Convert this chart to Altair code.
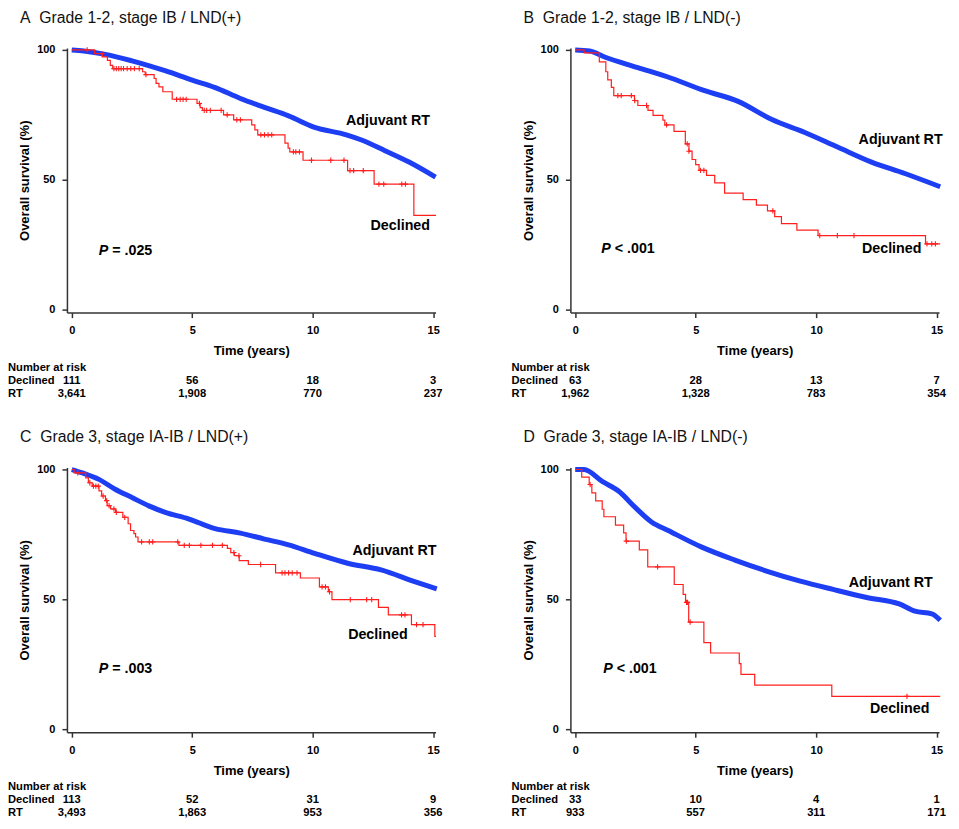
import altair as alt
import pandas as pd

FONT = "Liberation Sans"
BLUE = "#1d3ef2"
RED = "#ff1f1f"

W, H = 369, 265
X_DOMAIN = [-0.2, 15.1]
Y_DOMAIN = [-1.2, 100.8]
X_TICKS = [0, 5, 10, 15]
Y_TICKS = [0, 50, 100]
RISK_TIMES = [0, 5, 10, 15]

# ---------------- Panel A ----------------
A_TITLE = "A\u00a0\u00a0Grade 1-2, stage IB / LND(+)"
A_RT_T = [0, 0.5, 1.4, 2.5, 3.87, 5.0, 5.93, 7.0, 8.0, 9.0, 10.05, 11.4, 12.0, 13.0, 14.0, 15.1]
A_RT_S = [100, 99.6, 98.3, 95.8, 92.0, 88.4, 85.6, 81.3, 77.9, 74.6, 70.3, 67.3, 65.4, 61.2, 56.8, 51.0]
A_DEC_T = [0, 0.95, 1.27, 1.48, 1.6, 1.7, 2.94, 3.05, 3.42, 3.5, 3.62, 3.78, 4.17, 5.2, 5.33, 5.42,
           6.3, 6.72, 7.47, 7.6, 7.72, 8.85, 8.98, 9.05, 9.6, 11.45, 12.55, 14.2, 15.12]
A_DEC_S = [100, 98.6, 97.3, 96.0, 94.1, 92.8, 91.6, 90.5, 89.0, 87.1, 85.8, 83.9, 81.0, 79.4, 77.8, 76.7,
           75.0, 73.1, 71.1, 69.2, 67.3, 64.1, 62.2, 60.7, 57.5, 53.5, 48.3, 36.3, 36.3]
A_CENS = [0.64, 1.25, 1.75, 1.85, 1.95, 2.05, 2.15, 2.3, 2.45, 2.6, 2.8, 3.08, 4.35, 4.5, 4.62, 4.75,
          5.3, 5.5, 5.6, 5.75, 6.2, 6.45, 6.85, 7.0, 7.85, 8.0, 8.15, 8.3, 9.2, 9.3, 9.45, 9.95,
          10.75, 11.3, 11.55, 11.7, 12.1, 12.75, 12.95, 13.7, 13.85]
A_RISK_DEC = [111, 56, 18, 3]
A_RISK_RT = [3641, 1908, 770, 237]
A_LAB_RT = (14.87, 72.8)
A_LAB_DEC = (14.87, 32.1)
A_P = (1.12, 22.6, "= .025")

# ---------------- Panel B ----------------
B_TITLE = "B\u00a0\u00a0Grade 1-2, stage IB / LND(-)"
B_RT_T = [0, 0.6, 1.22, 2.6, 3.99, 5.37, 6.76, 8.14, 9.53, 10.91, 12.3, 13.68, 15.15]
B_RT_S = [100, 99.6, 97.3, 93.2, 89.1, 84.3, 80.2, 73.3, 68.2, 62.5, 56.8, 52.4, 47.3]
B_DEC_T = [0, 0.37, 1.0, 1.27, 1.35, 1.5, 1.6, 2.46, 2.6, 3.02, 3.23, 3.64, 3.72, 4.1, 4.57, 4.72,
           4.85, 5.0, 5.14, 5.45, 5.79, 6.2, 6.97, 7.52, 7.98, 8.28, 8.56, 9.2, 10.08, 14.54, 15.15]
B_DEC_S = [100, 98.9, 95.4, 91.6, 88.5, 85.6, 82.4, 80.5, 78.6, 76.7, 74.8, 73.0, 71.1, 68.6, 63.8, 61.0,
           57.8, 55.8, 53.6, 51.7, 48.8, 44.8, 42.3, 40.2, 38.0, 35.8, 33.1, 30.6, 28.5, 25.3, 25.3]
B_CENS = [1.77, 1.91, 2.33, 2.47, 2.96, 3.79, 4.65, 4.72, 5.2, 5.34, 8.2, 10.15, 10.88, 11.57,
          14.6, 14.8, 14.95]
B_RISK_DEC = [63, 28, 13, 7]
B_RISK_RT = [1962, 1328, 783, 354]
B_LAB_RT = (15.25, 65.3)
B_LAB_DEC = (14.37, 23.2)
B_P = (1.08, 23.2, "< .001")

# ---------------- Panel C ----------------
C_TITLE = "C\u00a0\u00a0Grade 3, stage IA-IB / LND(+)"
C_RT_T = [0, 0.44, 1.13, 1.8, 2.5, 3.2, 3.88, 4.84, 5.95, 7.0, 8.0, 9.0, 10.08, 11.45, 12.84, 14.2, 15.15]
C_RT_S = [100, 98.7, 96.2, 92.4, 89.2, 86.0, 83.5, 81.0, 77.2, 75.5, 73.2, 71.0, 67.7, 63.9, 61.3, 56.9, 54.0]
C_DEC_T = [0, 0.1, 0.58, 0.69, 0.85, 1.13, 1.24, 1.4, 1.47, 1.61, 1.82, 2.12, 2.34, 2.44, 2.58, 2.65,
           2.75, 4.45, 6.46, 6.6, 6.75, 6.95, 7.33, 8.46, 9.49, 10.28, 10.65, 10.8, 12.73, 13.14,
           14.1, 15.07, 15.12]
C_DEC_S = [100, 98.7, 96.8, 94.9, 93.6, 91.8, 89.8, 88.0, 86.1, 84.8, 83.5, 81.6, 79.1, 76.5, 75.3, 74.0,
           72.1, 70.8, 69.6, 68.0, 66.8, 64.9, 63.4, 60.2, 58.2, 54.8, 52.9, 49.9, 46.9, 44.0,
           40.2, 35.7, 35.7]
C_CENS = [0.25, 0.75, 0.9, 1.0, 1.1, 1.3, 1.45, 1.55, 1.75, 1.85, 2.2, 2.9, 3.22, 3.36, 4.4, 4.67,
          4.88, 5.36, 5.84, 6.25, 6.73, 6.94, 7.84, 8.73, 8.85, 9.0, 9.15, 9.35, 10.39, 10.53,
          10.7, 11.56, 12.24, 12.45, 13.69, 13.83, 14.31, 14.58]
C_RISK_DEC = [113, 52, 31, 9]
C_RISK_RT = [3493, 1863, 953, 356]
C_LAB_RT = (15.14, 68.7)
C_LAB_DEC = (13.94, 36.4)
C_P = (1.12, 23.1, "= .003")

# ---------------- Panel D ----------------
D_TITLE = "D\u00a0\u00a0Grade 3, stage IA-IB / LND(-)"
D_RT_T = [0, 0.37, 1.12, 1.81, 2.5, 3.18, 3.86, 5.23, 6.6, 7.97, 9.34, 10.7, 12.1, 13.45, 14.1, 14.8, 15.15]
D_RT_S = [100, 100, 95.4, 91.6, 85.3, 79.7, 76.5, 70.2, 65.2, 60.8, 57.0, 53.8, 50.7, 48.2, 45.4, 44.4, 41.9]
D_DEC_T = [0, 0.27, 0.58, 0.69, 0.85, 1.12, 1.19, 1.67, 2.01, 2.11, 2.66, 3.01, 4.11, 4.48, 4.58,
           4.71, 5.34, 5.62, 6.81, 6.88, 7.45, 10.65, 15.15]
D_DEC_S = [100, 97.1, 94.2, 91.0, 87.9, 84.7, 81.8, 78.6, 75.6, 72.4, 69.0, 62.5, 55.7, 51.9, 48.8,
           41.2, 33.3, 29.3, 25.2, 21.1, 16.9, 12.6, 12.6]
D_CENS = [0.62, 2.12, 3.42, 4.62, 4.66, 4.77, 13.77]
D_RISK_DEC = [33, 10, 4, 1]
D_RISK_RT = [933, 557, 311, 171]
D_LAB_RT = (14.84, 56.3)
D_LAB_DEC = (14.7, 7.8)
D_P = (1.16, 23.3, "< .001")


def survival_at(ts, ss, t):
    val = ss[0]
    for ti, si in zip(ts, ss):
        if ti <= t:
            val = si
        else:
            break
    return val


xenc = alt.X("t:Q", scale=alt.Scale(domain=X_DOMAIN, nice=False, zero=False),
             axis=alt.Axis(values=X_TICKS, title="Time (years)", format="d"))
yenc = alt.Y("s:Q", scale=alt.Scale(domain=Y_DOMAIN, nice=False, zero=False),
             axis=alt.Axis(values=Y_TICKS, title="Overall survival (%)", format="d"))

PLUS = "M-1,0L1,0M0,-1L0,1"
ROW_Y = [H + 55, H + 68, H + 81]
LAB_FS = 14.3
RISK_FS = 11.2


def panel(title, rt_t, rt_s, dec_t, dec_s, cens, risk_dec, risk_rt, lab_rt, lab_dec, p):
    rt_df = pd.DataFrame({"t": rt_t, "s": rt_s})
    dec_df = pd.DataFrame({"t": dec_t, "s": dec_s})
    cens_df = pd.DataFrame({"t": cens, "s": [survival_at(dec_t, dec_s, c) for c in cens]})
    lab_df = pd.DataFrame({"t": [lab_rt[0], lab_dec[0]], "s": [lab_rt[1], lab_dec[1]],
                           "label": ["Adjuvant RT", "Declined"]})
    p_df = pd.DataFrame({"t": [p[0]], "s": [p[1]], "label": ["P"], "rest": [p[2]]})

    blue = alt.Chart(rt_df).mark_line(color=BLUE, strokeWidth=5, interpolate="monotone").encode(x=xenc, y=yenc)
    red = alt.Chart(dec_df).mark_line(color=RED, strokeWidth=1.2, interpolate="step-after").encode(x=xenc, y=yenc)
    marks = alt.Chart(cens_df).mark_point(shape=PLUS, size=28, color=RED, strokeWidth=1.1,
                                          filled=False, opacity=1).encode(x=xenc, y=yenc)
    labels = alt.Chart(lab_df).mark_text(font=FONT, fontSize=LAB_FS, fontWeight="bold", align="right",
                                         baseline="middle", color="#000").encode(x=xenc, y=yenc, text="label:N")
    p1 = alt.Chart(p_df).mark_text(font=FONT, fontSize=LAB_FS, fontWeight="bold", fontStyle="italic",
                                   align="left", baseline="middle", color="#000").encode(x=xenc, y=yenc, text="label:N")
    p2 = alt.Chart(p_df).mark_text(font=FONT, fontSize=LAB_FS, fontWeight="bold", align="left", dx=13.5,
                                   baseline="middle", color="#000").encode(x=xenc, y=yenc, text="rest:N")

    ttl = alt.Chart(pd.DataFrame({"label": [title]})).mark_text(
        font=FONT, fontSize=15.8, align="left", baseline="middle", color="#111"
    ).encode(x=alt.value(-47), y=alt.value(-30), text="label:N")

    def row_label(txt, yv):
        return alt.Chart(pd.DataFrame({"label": [txt]})).mark_text(
            font=FONT, fontSize=RISK_FS, fontWeight="bold", align="left", baseline="middle", color="#000"
        ).encode(x=alt.value(-59), y=alt.value(yv), text="label:N")

    def row_nums(vals, yv):
        return alt.Chart(pd.DataFrame({"t": RISK_TIMES, "n": vals})).mark_text(
            font=FONT, fontSize=RISK_FS, fontWeight="bold", align="center", baseline="middle", color="#000"
        ).encode(x=xenc, y=alt.value(yv), text=alt.Text("n:Q", format=",d"))

    return alt.layer(
        blue, red, marks, labels, p1, p2, ttl,
        row_label("Number at risk", ROW_Y[0]), row_label("Declined", ROW_Y[1]), row_label("RT", ROW_Y[2]),
        row_nums(risk_dec, ROW_Y[1]), row_nums(risk_rt, ROW_Y[2])
    ).properties(width=W, height=H)


pa = panel(A_TITLE, A_RT_T, A_RT_S, A_DEC_T, A_DEC_S, A_CENS, A_RISK_DEC, A_RISK_RT, A_LAB_RT, A_LAB_DEC, A_P)
pb = panel(B_TITLE, B_RT_T, B_RT_S, B_DEC_T, B_DEC_S, B_CENS, B_RISK_DEC, B_RISK_RT, B_LAB_RT, B_LAB_DEC, B_P)
pc = panel(C_TITLE, C_RT_T, C_RT_S, C_DEC_T, C_DEC_S, C_CENS, C_RISK_DEC, C_RISK_RT, C_LAB_RT, C_LAB_DEC, C_P)
pd_ = panel(D_TITLE, D_RT_T, D_RT_S, D_DEC_T, D_DEC_S, D_CENS, D_RISK_DEC, D_RISK_RT, D_LAB_RT, D_LAB_DEC, D_P)

chart = alt.concat(pa, pb, pc, pd_, columns=2, spacing={"row": 155, "column": 135}, bounds="flush").properties(
    padding={"top": 1.5, "left": 0, "right": 0, "bottom": 0}
).configure_view(stroke=None).configure_axis(
    domainColor="#333", domainWidth=1.5, tickColor="#333", tickWidth=1.5, tickSize=5,
    labelFont=FONT, labelFontSize=11, labelFontWeight="bold", labelColor="#000",
    titleFont=FONT, titleFontSize=13, titleFontWeight="bold", titleColor="#000", grid=False
).configure_axisX(labelPadding=7, titlePadding=9).configure_axisY(labelPadding=7, titlePadding=5)

chart.save("out.html", embed_options={"renderer": "svg", "actions": False})
